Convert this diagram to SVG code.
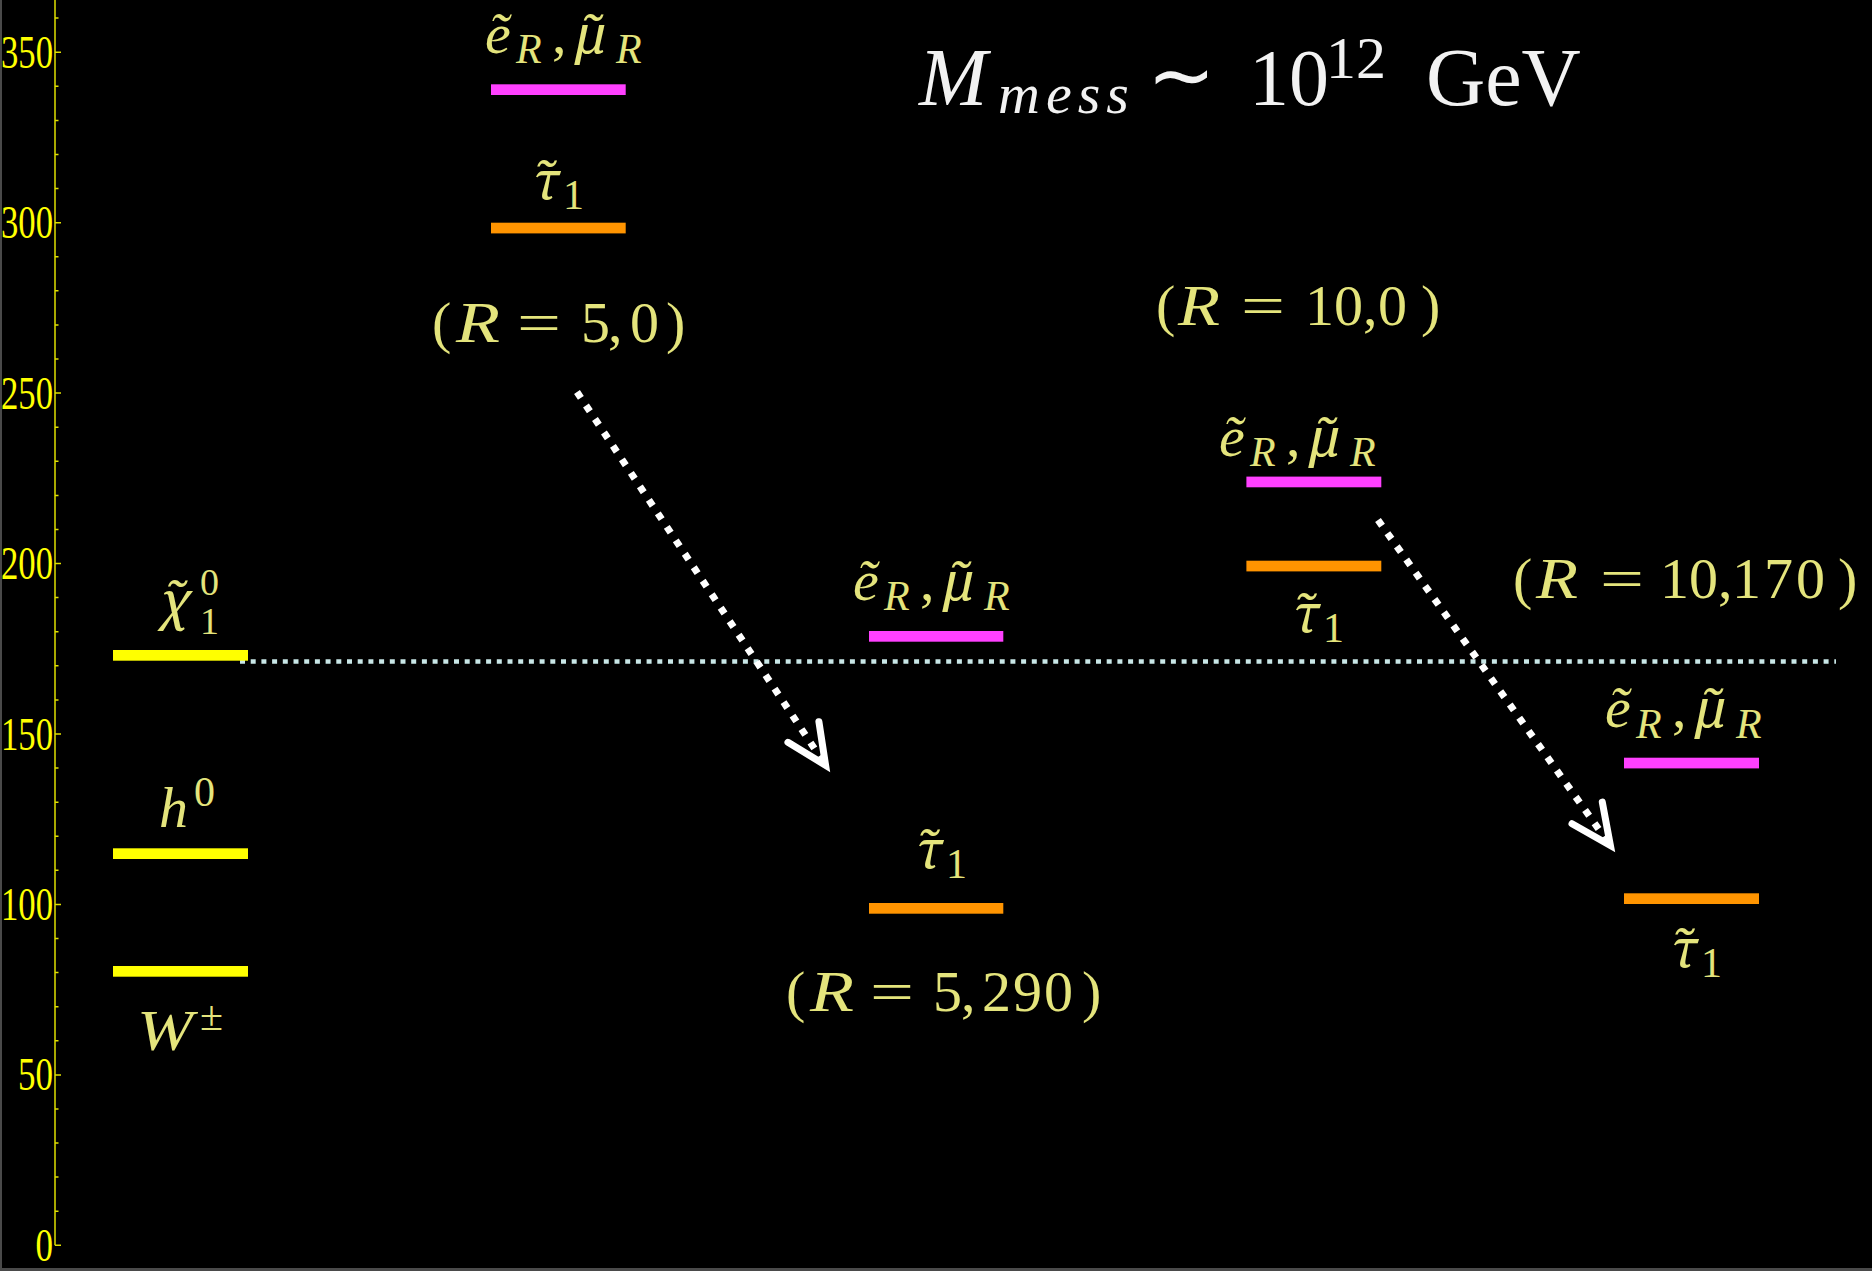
<svg xmlns="http://www.w3.org/2000/svg" width="1872" height="1271" viewBox="0 0 1872 1271">
<defs>
<style>
.m{font-family:'Liberation Serif',serif;fill:#e4e47c;font-size:58px}
.i{font-style:italic}
.s{font-size:42px}
.n{font-family:'Noto Serif','Liberation Serif',serif;font-size:52px;font-style:italic}
.tk{font-family:'Liberation Serif',serif;fill:#ffff00;font-size:46px;text-anchor:end}
.title{font-family:'Liberation Serif',serif;fill:#f2f2f2;font-size:82px}
.yel{fill:#ffff00}
.pink{fill:#ff40ff}
.orn{fill:#ff9400}
.arrow{fill:none;stroke:#ffffff;stroke-width:7;stroke-dasharray:7 9.2}
</style>
<marker id="head" markerUnits="userSpaceOnUse" viewBox="-50 -30 60 60" markerWidth="60" markerHeight="60" refX="0" refY="0" orient="auto" overflow="visible">
<path d="M-40,-18.6 L0,0 L-40,18.6" fill="none" stroke="#ffffff" stroke-width="7" stroke-linecap="round" stroke-linejoin="miter"/>
</marker>
</defs>
<rect x="0" y="0" width="1872" height="1271" fill="#000000"/>
<rect x="0" y="0" width="2" height="1271" fill="#4a4a4a"/>
<rect x="0" y="1268" width="1872" height="3" fill="#4a4a4a"/>

<g id="axis">
<line x1="55" y1="0" x2="55" y2="1245.3" stroke="#e0e000" stroke-width="1.5"/>
<path stroke="#e0e000" stroke-width="1.5" fill="none" d="M55,1245.3h6M55,1211.2h3.5M55,1177.1h3.5M55,1143h3.5M55,1108.9h3.5M55,1074.9h6M55,1040.8h3.5M55,1006.7h3.5M55,972.6h3.5M55,938.5h3.5M55,904.4h6M55,870.3h3.5M55,836.2h3.5M55,802.2h3.5M55,768.1h3.5M55,734h6M55,699.9h3.5M55,665.8h3.5M55,631.7h3.5M55,597.6h3.5M55,563.5h6M55,529.5h3.5M55,495.4h3.5M55,461.3h3.5M55,427.2h3.5M55,393.1h6M55,359h3.5M55,324.9h3.5M55,290.8h3.5M55,256.7h3.5M55,222.7h6M55,188.6h3.5M55,154.5h3.5M55,120.4h3.5M55,86.3h3.5M55,52.2h6M55,18.1h3.5"/>
<text class="tk" x="53" y="67.7" textLength="52" lengthAdjust="spacingAndGlyphs">350</text>
<text class="tk" x="53" y="238.2" textLength="52" lengthAdjust="spacingAndGlyphs">300</text>
<text class="tk" x="53" y="408.6" textLength="52" lengthAdjust="spacingAndGlyphs">250</text>
<text class="tk" x="53" y="579" textLength="52" lengthAdjust="spacingAndGlyphs">200</text>
<text class="tk" x="53" y="749.5" textLength="52" lengthAdjust="spacingAndGlyphs">150</text>
<text class="tk" x="53" y="919.9" textLength="52" lengthAdjust="spacingAndGlyphs">100</text>
<text class="tk" x="53" y="1090.4" textLength="35" lengthAdjust="spacingAndGlyphs">50</text>
<text class="tk" x="53" y="1260.8" textLength="17.5" lengthAdjust="spacingAndGlyphs">0</text>
</g>

<g id="title">
<text class="title"><tspan x="919" y="105" font-style="italic">M</tspan><tspan x="998" y="113" font-style="italic" font-size="58" letter-spacing="6">mess</tspan><tspan x="1147" y="103">∼</tspan><tspan x="1249" y="105" font-size="80">10</tspan><tspan x="1326" y="78" font-size="60">12</tspan><tspan x="1426" y="105">GeV</tspan></text>
</g>

<g id="reference-line">
<line x1="240" y1="661.5" x2="1836" y2="661.5" stroke="#c8e6e6" stroke-width="4.5" stroke-dasharray="5 5.7"/>
</g>

<g id="sm-neutralino">
<rect class="yel" x="113" y="650" width="135" height="10.7"/>
<text class="m"><tspan class="n" x="161" y="619">χ̃</tspan><tspan x="200" y="595" font-size="38">0</tspan><tspan x="200" y="634" font-size="38">1</tspan></text>
</g>
<g id="sm-higgs">
<rect class="yel" x="113" y="848.3" width="135" height="10.7"/>
<text class="m"><tspan class="i" x="159" y="827">h</tspan><tspan class="s" x="194" y="806">0</tspan></text>
</g>
<g id="sm-w">
<rect class="yel" x="113" y="966" width="135" height="10.7"/>
<text class="m"><tspan class="i" x="137" y="1050" textLength="56" lengthAdjust="spacingAndGlyphs">W</tspan><tspan class="s" x="200" y="1030">±</tspan></text>
</g>

<g id="case-5-0">
<text class="m"><tspan class="i" x="485" y="53">ẽ</tspan><tspan class="i s" x="516" y="63">R</tspan><tspan x="552" y="53">,</tspan><tspan class="n" x="576" y="53">μ̃</tspan><tspan class="i s" x="616" y="63">R</tspan></text>
<rect class="pink" x="491" y="84.3" width="134.7" height="10.7"/>
<text class="m"><tspan class="n" x="533" y="199">τ̃</tspan><tspan class="s" x="563" y="209">1</tspan></text>
<rect class="orn" x="491" y="222.7" width="134.7" height="10.7"/>
<text class="m"><tspan x="432" y="342">(</tspan><tspan class="i" x="456" y="342" textLength="44" lengthAdjust="spacingAndGlyphs">R</tspan><tspan x="517" y="342" textLength="44" lengthAdjust="spacingAndGlyphs">=</tspan><tspan x="581" y="342">5</tspan><tspan x="608" y="342">,</tspan><tspan x="630" y="342">0</tspan><tspan x="666" y="342">)</tspan></text>
</g>

<g id="case-5-290">
<text class="m"><tspan class="i" x="853" y="600">ẽ</tspan><tspan class="i s" x="884" y="610">R</tspan><tspan x="920" y="600">,</tspan><tspan class="n" x="944" y="600">μ̃</tspan><tspan class="i s" x="984" y="610">R</tspan></text>
<rect class="pink" x="869" y="631" width="134.3" height="10.7"/>
<text class="m"><tspan class="n" x="916" y="868">τ̃</tspan><tspan class="s" x="946" y="878">1</tspan></text>
<rect class="orn" x="869" y="903" width="134.3" height="10.7"/>
<text class="m"><tspan x="786" y="1011">(</tspan><tspan class="i" x="810" y="1011" textLength="44" lengthAdjust="spacingAndGlyphs">R</tspan><tspan x="870" y="1011" textLength="44" lengthAdjust="spacingAndGlyphs">=</tspan><tspan x="933" y="1011">5</tspan><tspan x="961" y="1011">,</tspan><tspan x="982" y="1011" letter-spacing="2">290</tspan><tspan x="1082" y="1011">)</tspan></text>
</g>

<g id="case-10-0">
<text class="m"><tspan x="1156" y="325">(</tspan><tspan class="i" x="1178" y="325" textLength="42" lengthAdjust="spacingAndGlyphs">R</tspan><tspan x="1241" y="325" textLength="44" lengthAdjust="spacingAndGlyphs">=</tspan><tspan x="1305" y="325">10</tspan><tspan x="1363" y="325">,</tspan><tspan x="1378" y="325">0</tspan><tspan x="1421" y="325">)</tspan></text>
<text class="m"><tspan class="i" x="1219" y="456">ẽ</tspan><tspan class="i s" x="1250" y="466">R</tspan><tspan x="1286" y="456">,</tspan><tspan class="n" x="1310" y="456">μ̃</tspan><tspan class="i s" x="1350" y="466">R</tspan></text>
<rect class="pink" x="1246.4" y="476.6" width="134.9" height="10.7"/>
<rect class="orn" x="1246.4" y="560.7" width="134.9" height="10.7"/>
<text class="m"><tspan class="n" x="1293" y="632">τ̃</tspan><tspan class="s" x="1323" y="642">1</tspan></text>
</g>

<g id="case-10-170">
<text class="m"><tspan x="1513" y="598">(</tspan><tspan class="i" x="1536" y="598" textLength="42" lengthAdjust="spacingAndGlyphs">R</tspan><tspan x="1600" y="598" textLength="44" lengthAdjust="spacingAndGlyphs">=</tspan><tspan x="1660" y="598">10</tspan><tspan x="1718" y="598">,</tspan><tspan x="1732" y="598" letter-spacing="3">170</tspan><tspan x="1838" y="598">)</tspan></text>
<text class="m"><tspan class="i" x="1605" y="727">ẽ</tspan><tspan class="i s" x="1636" y="738">R</tspan><tspan x="1672" y="727">,</tspan><tspan class="n" x="1696" y="727">μ̃</tspan><tspan class="i s" x="1736" y="738">R</tspan></text>
<rect class="pink" x="1624" y="757.7" width="135" height="10.7"/>
<rect class="orn" x="1624" y="893.3" width="135" height="10.7"/>
<text class="m"><tspan class="n" x="1671" y="967">τ̃</tspan><tspan class="s" x="1701" y="977">1</tspan></text>
</g>

<g id="connectors">
<path class="arrow" d="M577,392 L825.6,765.3" marker-end="url(#head)"/>
<path class="arrow" d="M1378,520 L1610.4,845.5" marker-end="url(#head)"/>
</g>
</svg>
